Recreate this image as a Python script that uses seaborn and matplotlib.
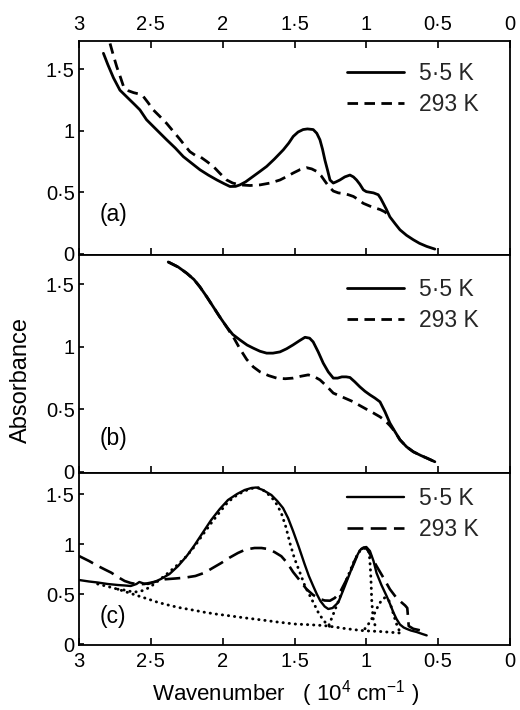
import matplotlib
matplotlib.use("Agg")
import matplotlib.pyplot as plt
import numpy as np
import pandas as pd
import seaborn as sns

# ---------------- data (wavenumber in 10^4 cm^-1, absorbance) ----------------
a_cold_w = [2.83, 2.80, 2.76, 2.715, 2.68, 2.645, 2.61, 2.576, 2.53, 2.483, 2.44, 2.39, 2.33, 2.274,
            2.22, 2.158, 2.10, 2.04, 1.99, 1.949, 1.91, 1.88, 1.84, 1.787, 1.74, 1.694, 1.64, 1.578,
            1.54, 1.509, 1.475, 1.44, 1.41, 1.37, 1.345, 1.323, 1.305, 1.288, 1.27, 1.253, 1.23,
            1.21, 1.184, 1.15, 1.114, 1.09, 1.068, 1.045, 1.021, 1.0, 0.975, 0.95, 0.917, 0.90,
            0.882, 0.86, 0.836, 0.80, 0.766, 0.72, 0.673, 0.63, 0.58, 0.523]
a_cold_v = [1.63, 1.54, 1.43, 1.33, 1.29, 1.25, 1.21, 1.17, 1.09, 1.035, 0.985, 0.927, 0.86, 0.79,
            0.74, 0.683, 0.64, 0.60, 0.57, 0.547, 0.548, 0.56, 0.585, 0.63, 0.67, 0.71, 0.77, 0.845,
            0.90, 0.954, 0.99, 1.01, 1.015, 1.01, 0.98, 0.927, 0.85, 0.76, 0.68, 0.60, 0.575,
            0.585, 0.60, 0.625, 0.64, 0.625, 0.60, 0.565, 0.52, 0.505, 0.50, 0.495, 0.48, 0.45,
            0.41, 0.36, 0.30, 0.245, 0.195, 0.15, 0.114, 0.085, 0.06, 0.038]
a_warm_w = [2.784, 2.76, 2.737, 2.71, 2.69, 2.655, 2.62, 2.585, 2.553, 2.52, 2.483, 2.44, 2.39, 2.34,
            2.297, 2.26, 2.228, 2.19, 2.158, 2.11, 2.065, 2.02, 1.972, 1.93, 1.88, 1.81, 1.74, 1.67,
            1.601, 1.55, 1.51, 1.46, 1.416, 1.38, 1.346, 1.315, 1.288, 1.26, 1.23, 1.195, 1.16,
            1.125, 1.09, 1.055, 1.021, 0.96, 0.905, 0.87, 0.836]
a_warm_v = [1.71, 1.61, 1.52, 1.43, 1.36, 1.325, 1.31, 1.30, 1.28, 1.23, 1.17, 1.12, 1.06, 0.99,
            0.93, 0.875, 0.83, 0.80, 0.79, 0.75, 0.71, 0.655, 0.60, 0.575, 0.56, 0.555, 0.56, 0.575,
            0.60, 0.63, 0.656, 0.685, 0.70, 0.69, 0.67, 0.635, 0.59, 0.545, 0.51, 0.495, 0.49,
            0.48, 0.466, 0.44, 0.41, 0.38, 0.36, 0.34, 0.30]

b_cold_w = [2.379, 2.31, 2.25, 2.20, 2.158, 2.11, 2.065, 2.02, 1.972, 1.93, 1.88, 1.83, 1.787, 1.74,
            1.694, 1.65, 1.601, 1.555, 1.51, 1.465, 1.427, 1.395, 1.37, 1.335, 1.30, 1.265, 1.23,
            1.20, 1.17, 1.14, 1.114, 1.08, 1.045, 1.01, 0.975, 0.94, 0.905, 0.87, 0.836, 0.80,
            0.766, 0.72, 0.673, 0.62, 0.58, 0.523]
b_cold_v = [1.68, 1.64, 1.59, 1.54, 1.48, 1.40, 1.32, 1.24, 1.16, 1.10, 1.056, 1.015, 0.99, 0.965,
            0.95, 0.95, 0.96, 0.985, 1.016, 1.05, 1.077, 1.07, 1.04, 0.96, 0.87, 0.80, 0.75,
            0.75, 0.76, 0.76, 0.755, 0.72, 0.68, 0.645, 0.616, 0.59, 0.56, 0.48, 0.39, 0.32,
            0.256, 0.20, 0.16, 0.13, 0.11, 0.08]
b_warm_w = [2.379, 2.31, 2.25, 2.20, 2.158, 2.11, 2.065, 2.02, 1.972, 1.95, 1.926, 1.88, 1.833,
            1.787, 1.74, 1.68, 1.624, 1.565, 1.51, 1.455, 1.404, 1.36, 1.323, 1.28, 1.23, 1.16,
            1.09, 1.045, 0.998, 0.95, 0.905, 0.87, 0.836, 0.80, 0.766, 0.72, 0.673, 0.62, 0.58,
            0.523]
b_warm_v = [1.68, 1.64, 1.59, 1.54, 1.48, 1.40, 1.32, 1.24, 1.16, 1.12, 1.08, 0.985, 0.90,
            0.84, 0.80, 0.77, 0.75, 0.745, 0.75, 0.765, 0.776, 0.76, 0.736, 0.69, 0.63, 0.595,
            0.56, 0.53, 0.50, 0.47, 0.44, 0.41, 0.37, 0.32, 0.256, 0.20, 0.16, 0.13, 0.11,
            0.08]

c_cold_w = [3.0, 2.93, 2.87, 2.80, 2.73, 2.68, 2.64, 2.60, 2.58, 2.55, 2.52, 2.475, 2.43, 2.37, 2.31,
            2.25, 2.195, 2.14, 2.08, 2.02, 1.963, 1.90, 1.847, 1.80, 1.766, 1.72, 1.661, 1.62, 1.58,
            1.545, 1.51, 1.47, 1.43, 1.40, 1.37, 1.345, 1.32, 1.29, 1.265, 1.235, 1.195, 1.155,
            1.114, 1.08, 1.045, 1.02, 1.0, 0.975, 0.95, 0.929, 0.895, 0.859, 0.835, 0.812, 0.79,
            0.766, 0.74, 0.72, 0.69, 0.65, 0.61, 0.58]
c_cold_v = [0.64, 0.625, 0.615, 0.60, 0.59, 0.585, 0.58, 0.60, 0.62, 0.605, 0.60, 0.62, 0.65, 0.70,
            0.78, 0.88, 0.99, 1.11, 1.24, 1.35, 1.44, 1.50, 1.54, 1.56, 1.565, 1.54, 1.49, 1.43,
            1.36, 1.26, 1.13, 0.97, 0.80, 0.68, 0.58, 0.50, 0.43, 0.375, 0.35, 0.36, 0.416, 0.56,
            0.71, 0.84, 0.937, 0.965, 0.97, 0.93, 0.83, 0.71, 0.59, 0.48, 0.40, 0.317, 0.25,
            0.195, 0.165, 0.152, 0.135, 0.12, 0.10, 0.086]
c_warm_w = [3.0, 2.93, 2.868, 2.82, 2.775, 2.73, 2.682, 2.64, 2.59, 2.545, 2.497, 2.45, 2.404, 2.33,
            2.265, 2.19, 2.125, 2.07, 2.01, 1.95, 1.894, 1.84, 1.778, 1.73, 1.685, 1.64, 1.592,
            1.55, 1.51, 1.46, 1.416, 1.37, 1.323, 1.29, 1.253, 1.22, 1.184, 1.15, 1.114, 1.085,
            1.056, 1.035, 1.02, 1.0, 0.987, 0.96, 0.929, 0.88, 0.836, 0.795, 0.755, 0.73, 0.715,
            0.705, 0.673, 0.62, 0.58]
c_warm_v = [0.88, 0.83, 0.78, 0.745, 0.713, 0.67, 0.63, 0.61, 0.597, 0.60, 0.614, 0.63, 0.647, 0.655,
            0.663, 0.68, 0.713, 0.76, 0.81, 0.865, 0.91, 0.945, 0.96, 0.96, 0.95, 0.92, 0.878,
            0.81, 0.72, 0.63, 0.548, 0.49, 0.45, 0.435, 0.433, 0.46, 0.515, 0.61, 0.713, 0.81,
            0.91, 0.95, 0.96, 0.955, 0.93, 0.86, 0.78, 0.66, 0.548, 0.47, 0.416, 0.385, 0.36,
            0.18, 0.152, 0.135, 0.12]

# dotted fit components (panel c)
c_base_w = [2.87, 2.80, 2.73, 2.66, 2.59, 2.52, 2.45, 2.38, 2.31, 2.21, 2.125, 2.05, 1.963, 1.85,
            1.731, 1.62, 1.50, 1.40, 1.30, 1.22, 1.137, 1.09, 1.045, 0.98, 0.905, 0.84, 0.766]
c_base_v = [0.60, 0.575, 0.548, 0.515, 0.482, 0.45, 0.416, 0.39, 0.366, 0.34, 0.317, 0.30, 0.284,
            0.262, 0.241, 0.22, 0.20, 0.193, 0.185, 0.17, 0.152, 0.145, 0.136, 0.13, 0.125, 0.118,
            0.11]
c_bandA_w = [2.73, 2.70, 2.66, 2.613, 2.58, 2.543, 2.50, 2.45, 2.38, 2.311, 2.25, 2.195, 2.14, 2.079,
             2.02, 1.963, 1.90, 1.847, 1.80, 1.754, 1.71, 1.661, 1.625, 1.592, 1.56, 1.53, 1.50,
             1.462, 1.43, 1.392, 1.36, 1.335, 1.305, 1.277, 1.25, 1.23]
c_bandA_v = [0.548, 0.545, 0.53, 0.52, 0.525, 0.54, 0.575, 0.63, 0.71, 0.795, 0.88, 0.977, 1.09,
             1.21, 1.32, 1.42, 1.49, 1.53, 1.555, 1.565, 1.53, 1.47, 1.40, 1.31, 1.17, 1.0, 0.855,
             0.713, 0.59, 0.48, 0.39, 0.317, 0.25, 0.20, 0.17, 0.152]
c_bandB_w = [1.26, 1.235, 1.207, 1.17, 1.137, 1.105, 1.08, 1.055, 1.033, 1.01, 0.99, 0.98, 0.975,
             0.97, 0.966, 0.963, 0.958, 0.952, 0.94, 0.929]
c_bandB_v = [0.19, 0.28, 0.383, 0.52, 0.647, 0.76, 0.845, 0.91, 0.95, 0.96, 0.945, 0.91, 0.82,
             0.71, 0.58, 0.45, 0.35, 0.25, 0.19, 0.15]
c_bandC_w = [1.01, 0.985, 0.963, 0.94, 0.917, 0.895, 0.87, 0.85, 0.836, 0.82, 0.801, 0.785, 0.766]
c_bandC_v = [0.152, 0.20, 0.25, 0.315, 0.383, 0.435, 0.465, 0.45, 0.416, 0.34, 0.25, 0.18, 0.12]

x_ticks = [3, 2.5, 2, 1.5, 1, 0.5, 0]
x_tick_labels = ["3", "2·5", "2", "1·5", "1", "0·5", "0"]
y_ticks = [0, 0.5, 1, 1.5]
y_tick_labels = ["0", "0·5", "1", "1·5"]
legend_labels = ["5·5 K", "293 K"]
panel_labels = ["(a)", "(b)", "(c)"]

# ---------------- style ----------------
sns.set_theme(style="ticks")
plt.rcParams["font.family"] = ["Liberation Sans", "DejaVu Sans"]
plt.rcParams["mathtext.fontset"] = "custom"
plt.rcParams["mathtext.rm"] = "Liberation Sans"
plt.rcParams["mathtext.it"] = "Liberation Sans:italic"
plt.rcParams["axes.linewidth"] = 1.3
plt.rcParams["axes.edgecolor"] = "black"

fig = plt.figure(figsize=(5.2, 7.1), dpi=100)
left, width = 79 / 520, 431 / 520
ax_a = fig.add_axes([left, 1 - 255 / 710, width, 214 / 710])
ax_b = fig.add_axes([left, 1 - 473 / 710, width, 218 / 710])
ax_c = fig.add_axes([left, 1 - 645 / 710, width, 172 / 710])


def curve(ax, w, v, ls, lw=2.0, label=None, **extra):
    df = pd.DataFrame({"w": w, "v": v})
    if label is not None:
        extra["label"] = label
    sns.lineplot(data=df, x="w", y="v", ax=ax, color="black", linestyle=ls, lw=lw,
                 sort=False, estimator=None, **extra)


dash_ab = (0, (3.8, 2.3))
dash_c = (0, (6.0, 2.8))
dots = (0, (0.1, 2.0))

curve(ax_a, a_cold_w, a_cold_v, "-", label=legend_labels[0])
curve(ax_a, a_warm_w, a_warm_v, dash_ab, label=legend_labels[1])
curve(ax_b, b_cold_w, b_cold_v, "-", label=legend_labels[0])
curve(ax_b, b_warm_w, b_warm_v, dash_ab, label=legend_labels[1])
for w, v in [(c_base_w, c_base_v), (c_bandA_w, c_bandA_v), (c_bandB_w, c_bandB_v),
             (c_bandC_w, c_bandC_v)]:
    curve(ax_c, w, v, dots, lw=2.1, dash_capstyle="round")
curve(ax_c, c_cold_w, c_cold_v, "-", lw=1.7, label=legend_labels[0])
curve(ax_c, c_warm_w, c_warm_v, dash_c, lw=1.9, label=legend_labels[1])

ylims = [(-0.01, 1.73), (-0.01, 1.736), (-0.01, 1.71)]
label_y = [0.187, 0.16, 0.163]
leg_y = [0.90, 0.895, 0.92]
for i, ax in enumerate([ax_a, ax_b, ax_c]):
    ax.set_xlim(3, 0)
    ax.set_ylim(*ylims[i])
    ax.set_xlabel("")
    ax.set_ylabel("")
    ax.set_xticks(x_ticks)
    ax.set_xticklabels(x_tick_labels)
    ax.set_yticks(y_ticks)
    ax.set_yticklabels(y_tick_labels)
    for s in ax.spines.values():
        s.set_visible(True)
        s.set_color("black")
        s.set_linewidth(1.3)
    ax.tick_params(axis="x", direction="in", length=5, width=1.2, colors="black",
                   labelsize=14.5, top=(i == 0), bottom=True,
                   labeltop=(i == 0), labelbottom=(i == 2), pad=5)
    ax.tick_params(axis="y", direction="in", length=3.5, width=1.2, colors="black",
                   labelsize=14.5, left=True, right=False, pad=3)
    ax.text(0.047, label_y[i], panel_labels[i], transform=ax.transAxes, fontsize=16.5,
            ha="left", va="center", color="black")
    ax.legend(loc="upper left", bbox_to_anchor=(0.622, leg_y[i]), frameon=False, fontsize=16.5,
              handlelength=2.5, handletextpad=0.65, labelspacing=0.35, borderpad=0,
              borderaxespad=0)
    ax.set_facecolor("white")

fig.text(21 / 520, 1 - 380 / 710, "Absorbance", rotation=90, ha="center", va="center",
         fontsize=17, color="black")
fig.text(286 / 520, 1 - 694 / 710, "Wavenumber   ( 10$^{4}$ cm$^{-1}$ )", ha="center",
         va="center", fontsize=16, color="black")

fig.savefig("out.png", dpi=100, facecolor="white")
